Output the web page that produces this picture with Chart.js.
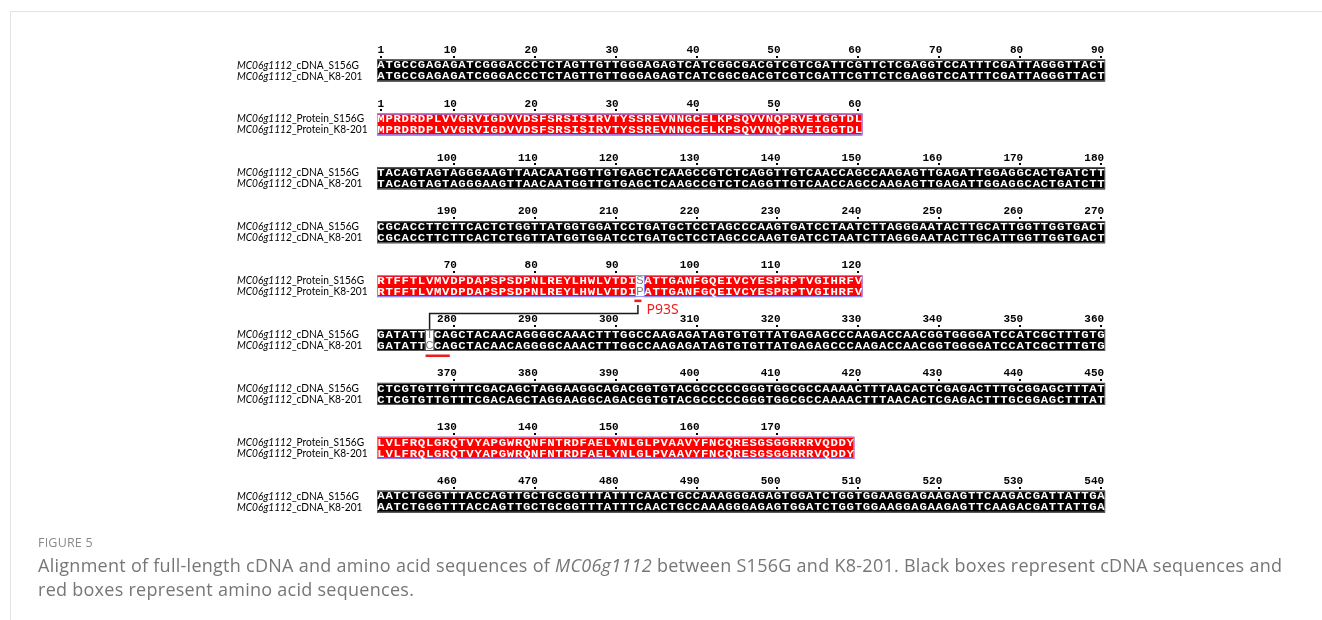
<!DOCTYPE html>
<html>
<head>
<meta charset="utf-8">
<script src="https://cdn.jsdelivr.net/npm/chart.js@4.4.1/dist/chart.umd.min.js"></script>
<style>
  html, body { margin: 0; padding: 0; background: #fff; }
  body { width: 1322px; height: 620px; position: relative; overflow: hidden; }
  #frame { position: absolute; left: 10px; top: 11px; right: -2px; bottom: -2px;
           border-top: 1px solid #e3e3e3; border-left: 1px solid #e3e3e3; }
  #alignment { position: absolute; left: 0; top: 0; }
  .fig-title { position: absolute; left: 38px; top: 535px; font: 12.5px "Open Sans", sans-serif;
               color: #8a8a8a; letter-spacing: 0.2px; line-height: 16px; }
  .caption { position: absolute; left: 38px; top: 553px; font: 18px "Open Sans", sans-serif;
             color: #767676; line-height: 24px; white-space: nowrap; letter-spacing: 0.27px; }
</style>
</head>
<body>
<div id="frame"></div>
<canvas id="alignment" width="1322" height="620"></canvas>
<div class="fig-title">FIGURE 5</div>
<div class="caption">Alignment of full-length cDNA and amino acid sequences of <i>MC06g1112</i> between S156G and K8-201. Black boxes represent cDNA sequences and<br>red boxes represent amino acid sequences.</div>

<script>
// cDNA lines, 90 nt each
const cdnaS156G = [
    "ATGCCGAGAGATCGGGACCCTCTAGTTGTTGGGAGAGTCATCGGCGACGTCGTCGATTCGTTCTCGAGGTCCATTTCGATTAGGGTTACT",
    "TACAGTAGTAGGGAAGTTAACAATGGTTGTGAGCTCAAGCCGTCTCAGGTTGTCAACCAGCCAAGAGTTGAGATTGGAGGCACTGATCTT",
    "CGCACCTTCTTCACTCTGGTTATGGTGGATCCTGATGCTCCTAGCCCAAGTGATCCTAATCTTAGGGAATACTTGCATTGGTTGGTGACT",
    "GATATTTCAGCTACAACAGGGGCAAACTTTGGCCAAGAGATAGTGTGTTATGAGAGCCCAAGACCAACGGTGGGGATCCATCGCTTTGTG",
    "CTCGTGTTGTTTCGACAGCTAGGAAGGCAGACGGTGTACGCCCCCGGGTGGCGCCAAAACTTTAACACTCGAGACTTTGCGGAGCTTTAT",
    "AATCTGGGTTTACCAGTTGCTGCGGTTTATTTCAACTGCCAAAGGGAGAGTGGATCTGGTGGAAGGAGAAGAGTTCAAGACGATTATTGA"
];
const cdnaK8201 = [
    "ATGCCGAGAGATCGGGACCCTCTAGTTGTTGGGAGAGTCATCGGCGACGTCGTCGATTCGTTCTCGAGGTCCATTTCGATTAGGGTTACT",
    "TACAGTAGTAGGGAAGTTAACAATGGTTGTGAGCTCAAGCCGTCTCAGGTTGTCAACCAGCCAAGAGTTGAGATTGGAGGCACTGATCTT",
    "CGCACCTTCTTCACTCTGGTTATGGTGGATCCTGATGCTCCTAGCCCAAGTGATCCTAATCTTAGGGAATACTTGCATTGGTTGGTGACT",
    "GATATTCCAGCTACAACAGGGGCAAACTTTGGCCAAGAGATAGTGTGTTATGAGAGCCCAAGACCAACGGTGGGGATCCATCGCTTTGTG",
    "CTCGTGTTGTTTCGACAGCTAGGAAGGCAGACGGTGTACGCCCCCGGGTGGCGCCAAAACTTTAACACTCGAGACTTTGCGGAGCTTTAT",
    "AATCTGGGTTTACCAGTTGCTGCGGTTTATTTCAACTGCCAAAGGGAGAGTGGATCTGGTGGAAGGAGAAGAGTTCAAGACGATTATTGA"
];

// protein lines, 60 aa each
const proteinS156G = [
    "MPRDRDPLVVGRVIGDVVDSFSRSISIRVTYSSREVNNGCELKPSQVVNQPRVEIGGTDL",
    "RTFFTLVMVDPDAPSPSDPNLREYLHWLVTDISATTGANFGQEIVCYESPRPTVGIHRFV",
    "LVLFRQLGRQTVYAPGWRQNFNTRDFAELYNLGLPVAAVYFNCQRESGSGGRRRVQDDY"
];
const proteinK8201 = [
    "MPRDRDPLVVGRVIGDVVDSFSRSISIRVTYSSREVNNGCELKPSQVVNQPRVEIGGTDL",
    "RTFFTLVMVDPDAPSPSDPNLREYLHWLVTDIPATTGANFGQEIVCYESPRPTVGIHRFV",
    "LVLFRQLGRQTVYAPGWRQNFNTRDFAELYNLGLPVAAVYFNCQRESGSGGRRRVQDDY"
];

const cdnaNames = ["cDNA_S156G", "cDNA_K8-201"];
const proteinNames = ["Protein_S156G", "Protein_K8-201"];
const geneName = "MC06g1112";

// panel order top to bottom
const panelOrder = ["cDNA", "Protein", "cDNA", "cDNA", "Protein", "cDNA", "cDNA", "Protein", "cDNA"];
const cdnaPerLine = 90;
const proteinPerLine = 60;

// substitution call-out
const mutationLabel = "P93S";
const mutationResidue = 93;
const mutationCodonStart = 277;

// styles
const styles = {
    cDNA:    { fill: "#000000", border: "#5a5a5a", text: "#ffffff" },
    Protein: { fill: "#ff0000", border: "#8f86ff", text: "#ffffff" }
};
const seqFont = 'bold 11px "Liberation Mono", monospace';
const rulerFont = 'bold 11px "Liberation Mono", monospace';
const labelFamily = '"Lato", "Liberation Sans", sans-serif';
const labelSize = 11;
const labelLeft = 237;
const labelWidth = 122; // width of the cDNA_S156G label
const rowOffsets = [15, 26];
const boxTop = 9.5, boxBottom = 31.5;

document.addEventListener("DOMContentLoaded", function () {

    function drawRuler(ctx, x, base, start, len) {
        ctx.font = rulerFont;
        ctx.fillStyle = "#000";
        ctx.textAlign = "right";
        ctx.textBaseline = "middle";
        for (let c = 0; c < len; c++) {
            const n = start + c + 1;
            if (n % 10 !== 0 && n !== 1) continue;
            ctx.fillText(String(n), x.getPixelForValue(c + 1) - 1, base);
            const cx = x.getPixelForValue(c + 0.5);
            ctx.fillRect(Math.round(cx) - 1, Math.round(base + 5.5), 2, 2);
        }
    }

    function drawLabel(ctx, name, cy, scale) {
        ctx.save();
        ctx.translate(labelLeft, cy);
        ctx.scale(scale, 1);
        ctx.textAlign = "left";
        ctx.textBaseline = "middle";
        ctx.fillStyle = "#000";
        ctx.font = `italic ${labelSize}px ${labelFamily}`;
        ctx.fillText(geneName, 0, 0);
        const w = ctx.measureText(geneName).width;
        ctx.font = `${labelSize}px ${labelFamily}`;
        ctx.fillText("_" + name, w, 0);
        ctx.restore();
    }

    function drawBlock(ctx, x, base, rows, style) {
        const len = rows[0].length;
        const top = base + boxTop, bottom = base + boxBottom;
        const x0 = x.getPixelForValue(0), x1 = x.getPixelForValue(len);

        // filled runs of identical columns
        ctx.fillStyle = style.fill;
        let runStart = null;
        for (let c = 0; c <= len; c++) {
            const same = c < len && rows[0][c] === rows[1][c];
            if (same && runStart === null) runStart = c;
            if (!same && runStart !== null) {
                const a = x.getPixelForValue(runStart), b = x.getPixelForValue(c);
                ctx.fillRect(a, top, b - a, bottom - top);
                ctx.strokeStyle = style.border;
                ctx.lineWidth = 1;
                ctx.strokeRect(a + 0.5, top + 0.5, b - a - 1, bottom - top - 1);
                runStart = null;
            }
        }
        // outline of the whole line
        ctx.strokeStyle = style.border;
        ctx.lineWidth = 1;
        ctx.strokeRect(x0 + 0.5, top + 0.5, x1 - x0 - 1, bottom - top - 1);

        // letters
        ctx.textAlign = "center";
        ctx.textBaseline = "middle";
        rows.forEach((seq, r) => {
            const cy = base + rowOffsets[r];
            for (let c = 0; c < len; c++) {
                const cx = x.getPixelForValue(c + 0.5);
                const same = rows[0][c] === rows[1][c];
                ctx.save();
                ctx.translate(cx, cy);
                if (same) {
                    ctx.scale(1.12, 1);
                    ctx.font = seqFont;
                    ctx.fillStyle = style.text;
                } else {
                    ctx.font = '11px "Liberation Sans", sans-serif';
                    ctx.fillStyle = "#7d7d7d";
                }
                ctx.fillText(seq[c], 0, 0.5);
                ctx.restore();
            }
        });
    }

    const alignmentPlugin = {
        id: "alignmentPlugin",
        afterDraw(chart) {
            const ctx = chart.ctx;
            const x = chart.scales.x, y = chart.scales.y;

            ctx.save();
            ctx.font = `italic ${labelSize}px ${labelFamily}`;
            let w = ctx.measureText(geneName).width;
            ctx.font = `${labelSize}px ${labelFamily}`;
            w += ctx.measureText("_" + cdnaNames[0]).width;
            const labelScale = labelWidth / w;

            let cLine = 0, pLine = 0;
            const bases = {};
            panelOrder.forEach((kind, i) => {
                const base = y.getPixelForValue(i);
                let rows, names, start;
                if (kind === "cDNA") {
                    rows = [cdnaS156G[cLine], cdnaK8201[cLine]];
                    names = cdnaNames;
                    start = cLine * cdnaPerLine;
                    cLine++;
                } else {
                    rows = [proteinS156G[pLine], proteinK8201[pLine]];
                    names = proteinNames;
                    start = pLine * proteinPerLine;
                    pLine++;
                }
                drawRuler(ctx, x, base, start, rows[0].length);
                drawBlock(ctx, x, base, rows, styles[kind]);
                drawLabel(ctx, names[0], base + rowOffsets[0], labelScale);
                drawLabel(ctx, names[1], base + rowOffsets[1], labelScale);
                if (kind === "cDNA" && start < mutationCodonStart && mutationCodonStart <= start + cdnaPerLine) {
                    bases.cdna = { base, col: mutationCodonStart - start - 1 };
                }
                if (kind === "Protein" && start < mutationResidue && mutationResidue <= start + proteinPerLine) {
                    bases.protein = { base, col: mutationResidue - start - 1 };
                }
            });

            // P93S call-out: red marks under the changed residue and codon, joined by a bracket
            const p = bases.protein, d = bases.cdna;
            const pa = x.getPixelForValue(p.col) - 1.5, pb = x.getPixelForValue(p.col + 1) - 2.5;
            const pyLine = p.base + 35.5;
            ctx.fillStyle = "#ee1c1c";
            ctx.fillRect(pa, pyLine - 1.5, pb - pa, 2.5);

            const da = x.getPixelForValue(d.col), db = x.getPixelForValue(d.col + 3);
            ctx.fillRect(da, d.base + 35, db - da, 2.5);

            const bx = (pa + pb) / 2;
            const dx = x.getPixelForValue(d.col + 0.5);
            const hy = pyLine + 12.5;
            ctx.strokeStyle = "#1a1a1a";
            ctx.lineWidth = 1.5;
            ctx.beginPath();
            ctx.moveTo(bx, pyLine + 4);
            ctx.lineTo(bx, hy);
            ctx.lineTo(dx, hy);
            ctx.lineTo(dx, d.base + boxTop);
            ctx.stroke();

            ctx.fillStyle = "#ee1c1c";
            ctx.font = '14px "Noto Sans", sans-serif';
            ctx.textAlign = "left";
            ctx.textBaseline = "middle";
            ctx.fillText(mutationLabel, pb + 5, pyLine + 8.5);
            ctx.restore();
        }
    };

    const canvas = document.getElementById("alignment");
    const colWidth = 8.09;
    const blockGap = 53.9;
    new Chart(canvas.getContext("2d"), {
        type: "scatter",
        data: { datasets: [{ data: [] }] },
        options: {
            responsive: false,
            animation: false,
            events: [],
            layout: {
                padding: {
                    left: 377,
                    right: 1322 - 377 - cdnaPerLine * colWidth,
                    top: 50,
                    bottom: 620 - 50 - (panelOrder.length - 1) * blockGap
                }
            },
            plugins: { legend: { display: false }, tooltip: { enabled: false } },
            scales: {
                x: { type: "linear", min: 0, max: cdnaPerLine, display: false },
                y: { type: "linear", min: 0, max: panelOrder.length - 1, reverse: true, display: false }
            }
        },
        plugins: [alignmentPlugin]
    });
});
</script>
</body>
</html>
